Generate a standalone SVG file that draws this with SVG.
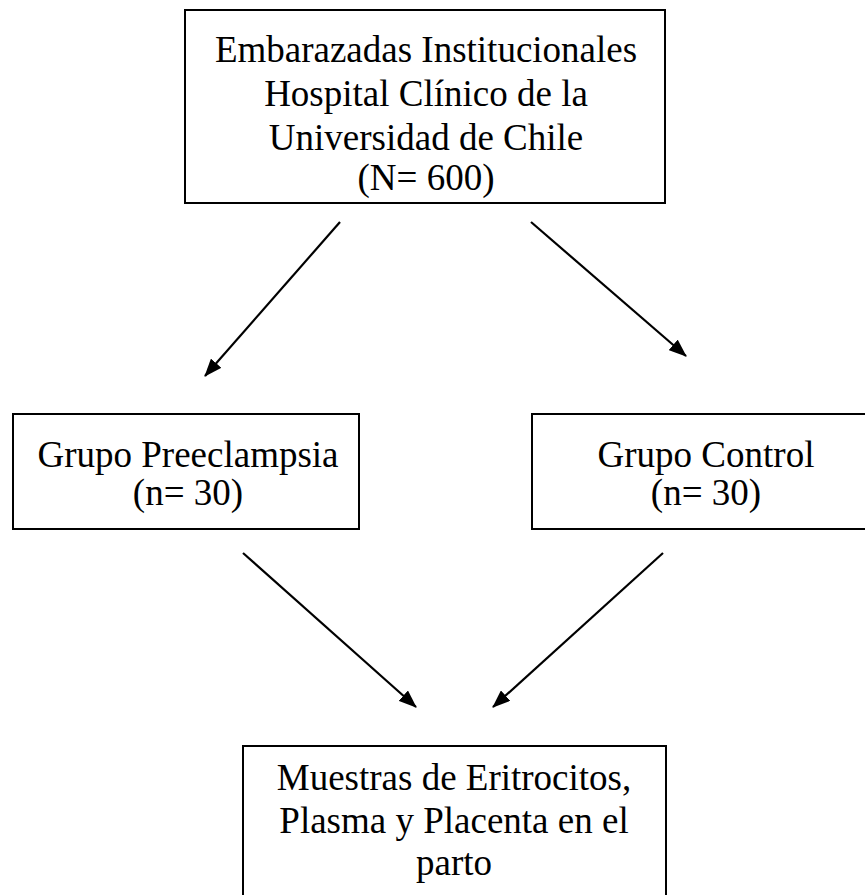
<svg xmlns="http://www.w3.org/2000/svg" width="865" height="895" viewBox="0 0 865 895">
<style>
.box{fill:#fff;stroke:#000;stroke-width:2}
.t{font-family:"Liberation Serif","Times New Roman",serif;font-size:37px;fill:#000;text-anchor:middle}
.c{stroke:#000;stroke-width:2.2;fill:none;marker-end:url(#ah)}
</style>
<defs>
<marker id="ah" markerWidth="18" markerHeight="14" refX="17" refY="7" orient="auto" markerUnits="userSpaceOnUse" viewBox="0 0 18 14">
<path d="M0,0 L18,7 L0,14 z" fill="#000"/>
</marker>
</defs>
<rect width="865" height="895" fill="#fff"/>
<g id="top">
<rect class="box" x="185" y="10" width="480" height="193"/>
<text class="t" x="426" y="62">Embarazadas Institucionales</text>
<text class="t" x="426" y="106">Hospital Clínico de la</text>
<text class="t" x="426" y="150">Universidad de Chile</text>
<text class="t" x="426" y="190">(N= 600)</text>
</g>
<g id="preeclampsia">
<rect class="box" x="13" y="414" width="346" height="115"/>
<text class="t" x="188" y="467">Grupo Preeclampsia</text>
<text class="t" x="188" y="505">(n= 30)</text>
</g>
<g id="control">
<rect class="box" x="532" y="414" width="360" height="115"/>
<text class="t" x="706" y="467">Grupo Control</text>
<text class="t" x="706" y="505">(n= 30)</text>
</g>
<g id="muestras">
<rect class="box" x="243" y="746" width="423" height="160"/>
<text class="t" x="454" y="790">Muestras de Eritrocitos,</text>
<text class="t" x="454" y="833">Plasma y Placenta en el</text>
<text class="t" x="454" y="875">parto</text>
</g>
<g id="connectors">
<line class="c" x1="340" y1="222" x2="205" y2="376"/>
<line class="c" x1="531" y1="222" x2="686" y2="356"/>
<line class="c" x1="243" y1="553" x2="416" y2="707"/>
<line class="c" x1="663" y1="553" x2="493" y2="707"/>
</g>
</svg>
